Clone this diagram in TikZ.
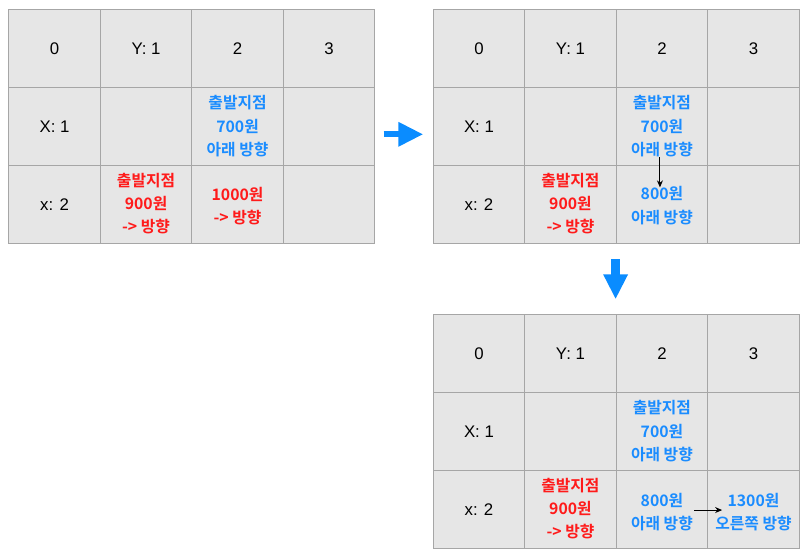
\documentclass[tikz,border=0pt]{standalone}
\usepackage{fontspec}
\setmainfont{Liberation Sans}
\newfontfamily\kr{Noto Sans CJK KR}[BoldFont={Noto Sans CJK KR Bold}]
\usetikzlibrary{arrows.meta}
\definecolor{cellfill}{HTML}{E6E6E6}
\definecolor{celldraw}{HTML}{A6A6A6}
\definecolor{kblue}{HTML}{1A8CFF}
\definecolor{kred}{HTML}{FF1A1A}
\definecolor{arrblue}{HTML}{0A8CFF}
\tikzset{
  cellbox/.style={draw=celldraw, fill=cellfill, line width=1pt, minimum width=91.5pt, minimum height=77.9pt, inner sep=0pt, anchor=north west},
  plain/.style={font=\fontsize{16.8}{20}\selectfont, text=black},
  bluetxt/.style={font=\kr\bfseries\fontsize{15.8}{23.3}\selectfont, text=kblue, align=center, inner sep=2pt},
  redtxt/.style={font=\kr\bfseries\fontsize{15.8}{23.3}\selectfont, text=kred, align=center, inner sep=2pt},
  smallarrow/.style={draw=black, line width=1pt, -{Stealth[length=7pt,width=6pt]}},
  bigarrow/.style={draw=arrblue, -{Triangle[length=25pt,width=23pt]}}
}
\newcommand{\mygrid}[3]{%
  \foreach \r in {0,1,2}{%
    \foreach \c in {0,1,2,3}{%
      \node[cellbox] (#1-\r-\c) at ({#2+\c*91.5pt},{#3-\r*77.9pt}) {};
    }%
  }%
  \node[plain] (#1-t0) at (#1-0-0.center) {0};
  \node[plain] (#1-t1) at (#1-0-1.center) {Y: 1};
  \node[plain] (#1-t2) at (#1-0-2.center) {2};
  \node[plain] (#1-t3) at (#1-0-3.center) {3};
  \node[plain] (#1-tx1) at (#1-1-0.center) {X: 1};
  \node[plain] (#1-tx2) at (#1-2-0.center) {x: 2};
  \node[bluetxt] (#1-start) at ([yshift=0.3pt]#1-1-2.center) {출발지점\\700원\\아래 방향};
  \node[redtxt] (#1-red) at ([yshift=1pt]#1-2-1.center) {출발지점\\900원\\-> 방향};
}
\begin{document}
\begin{tikzpicture}[x=1pt,y=1pt]
\useasboundingbox (0,0) rectangle (809,-558);
\mygrid{a}{8.3pt}{-9.3pt}
\mygrid{b}{432.7pt}{-9.3pt}
\mygrid{c}{432.7pt}{-314.3pt}
% grid a
\node[redtxt] (a-1000) at ([yshift=-1.5pt]a-2-2.center) {1000원\\-> 방향};
% grid b
\node[bluetxt] (b-800) at ([yshift=-1pt]b-2-2.center) {800원\\아래 방향};
\draw[smallarrow, shorten <=-2pt, shorten >=-3pt] ([xshift=-2pt]b-start.south) -- ([xshift=-2pt]b-800.north);
% grid c
\node[bluetxt] (c-800) at ([yshift=-2.5pt]c-2-2.center) {800원\\아래 방향};
\node[bluetxt] (c-1300) at ([yshift=-2.5pt]c-2-3.center) {1300원\\오른쪽 방향};
\draw[smallarrow, shorten <=-1pt, shorten >=-9pt] ([yshift=2pt]c-800.east) -- ([yshift=2pt]c-1300.west);
% big arrows
\coordinate (r1) at (383.7,-134.3);
\coordinate (r2) at (423.3,-134.3);
\draw[bigarrow, line width=6.3pt] (r1) -- (r2);
\coordinate (d1) at (615.6,-259);
\coordinate (d2) at (615.6,-299.3);
\draw[bigarrow, line width=9.5pt] (d1) -- (d2);
\end{tikzpicture}
\end{document}
